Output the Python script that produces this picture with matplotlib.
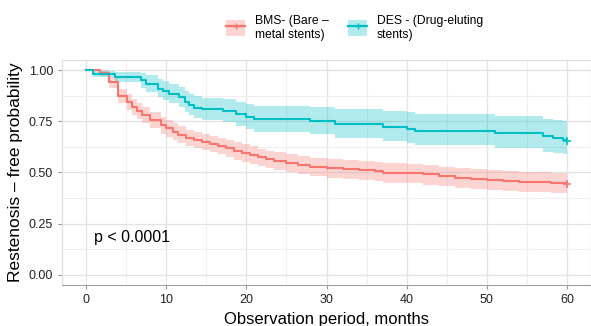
import numpy as np
import matplotlib
matplotlib.use('Agg')  # noqa
import matplotlib.pyplot as plt
from matplotlib.patches import Patch
from matplotlib.lines import Line2D

plt.rcParams['font.family'] = ['Liberation Sans', 'DejaVu Sans']

# Kaplan-Meier estimates (months, survival, CI)
bms_time = [0, 1.7, 2.8, 4.0, 5.1, 5.7, 6.3, 7.0, 8.0, 9.3, 10.0, 10.8, 11.5,
            12.5, 13.5, 14.5, 15.5, 16.5, 17.5, 18.5, 19.5, 20.5, 21.5, 22.5,
            23.5, 25.0, 26.5, 28.0, 30.0, 32.0, 34.0, 36.0, 37.0, 40.0, 42.0,
            44.0, 46.0, 48.0, 50.0, 52.0, 54.0, 56.0, 58.0, 60.0]
bms_surv = [1.0, 0.985, 0.94, 0.875, 0.845, 0.82, 0.80, 0.78, 0.755, 0.73,
            0.715, 0.70, 0.685, 0.67, 0.66, 0.65, 0.64, 0.63, 0.62, 0.605,
            0.595, 0.585, 0.575, 0.565, 0.555, 0.545, 0.535, 0.528, 0.52,
            0.515, 0.51, 0.505, 0.498, 0.495, 0.49, 0.482, 0.475, 0.47, 0.464,
            0.46, 0.455, 0.452, 0.448, 0.445]
bms_low = [1.0, 0.97, 0.915, 0.84, 0.805, 0.78, 0.76, 0.74, 0.715, 0.69,
           0.675, 0.66, 0.645, 0.63, 0.62, 0.61, 0.60, 0.59, 0.578, 0.563,
           0.553, 0.543, 0.532, 0.522, 0.512, 0.502, 0.492, 0.482, 0.472,
           0.467, 0.462, 0.456, 0.449, 0.446, 0.44, 0.432, 0.425, 0.42,
           0.414, 0.41, 0.405, 0.402, 0.398, 0.394]
bms_up = [1.0, 1.0, 0.965, 0.91, 0.885, 0.86, 0.84, 0.82, 0.795, 0.77,
          0.755, 0.74, 0.725, 0.71, 0.70, 0.69, 0.68, 0.67, 0.66, 0.647,
          0.637, 0.627, 0.617, 0.607, 0.598, 0.59, 0.58, 0.573, 0.565, 0.56,
          0.555, 0.55, 0.544, 0.541, 0.536, 0.529, 0.522, 0.517, 0.512,
          0.508, 0.504, 0.501, 0.497, 0.494]

des_time = [0, 0.9, 3.6, 6.9, 7.5, 9.0, 9.6, 10.4, 11.6, 12.3, 12.9, 13.5,
            14.5, 17.1, 18.7, 20.0, 21.0, 28.0, 31.0, 37.0, 40.0, 41.0, 51.0,
            57.0, 58.3, 59.5, 60.0]
des_surv = [1.0, 0.98, 0.965, 0.95, 0.935, 0.91, 0.90, 0.886, 0.87, 0.845,
            0.83, 0.817, 0.81, 0.80, 0.785, 0.77, 0.76, 0.752, 0.735, 0.722,
            0.714, 0.704, 0.693, 0.676, 0.668, 0.66, 0.655]
des_low = [1.0, 0.965, 0.94, 0.915, 0.895, 0.87, 0.855, 0.84, 0.82, 0.795,
           0.78, 0.765, 0.755, 0.745, 0.728, 0.712, 0.70, 0.688, 0.668,
           0.655, 0.645, 0.632, 0.62, 0.60, 0.595, 0.59, 0.588]
des_up = [1.0, 0.995, 0.99, 0.985, 0.975, 0.955, 0.945, 0.935, 0.92, 0.90,
          0.885, 0.875, 0.865, 0.858, 0.845, 0.833, 0.825, 0.82, 0.81, 0.80,
          0.795, 0.785, 0.775, 0.76, 0.755, 0.75, 0.747]

groups = ['BMS- (Bare –\nmetal stents)', 'DES - (Drug-eluting\nstents)']
colors = ['#F8766D', '#00BFC4']

fig = plt.figure(figsize=(5.91, 3.26), dpi=100)
ax = fig.add_axes([0.105, 0.126, 0.895, 0.69])

for t, s, lo, hi, c in [(bms_time, bms_surv, bms_low, bms_up, colors[0]),
                        (des_time, des_surv, des_low, des_up, colors[1])]:
    ax.fill_between(t, lo, hi, step='post', color=c, alpha=0.3, lw=0)
    ax.step(t, s, where='post', color=c, lw=1.5)
    ax.plot([t[-1]], [s[-1]], marker='+', color=c, ms=6, mew=1.2)

ax.set_xlim(-3, 63)
ax.set_ylim(-0.05, 1.05)
ax.set_xticks(np.arange(0, 61, 10))
ax.set_xticks(np.arange(5, 61, 10), minor=True)
ax.set_yticks([0, 0.25, 0.5, 0.75, 1.0])
ax.set_yticklabels(['0.00', '0.25', '0.50', '0.75', '1.00'])
ax.set_yticks([0.125, 0.375, 0.625, 0.875], minor=True)
ax.grid(which='major', color='#E3E3E3', lw=0.9)
ax.grid(which='minor', color='#EFEFEF', lw=0.8)
ax.set_axisbelow(True)
ax.tick_params(which='major', labelsize=9, colors='#222222', length=3,
               color='#999999')
ax.tick_params(which='minor', length=0)
for side in ['left', 'top', 'right']:
    ax.spines[side].set_color('#DDDDDD')
ax.spines['bottom'].set_color('#A0A0A0')

ax.set_xlabel('Observation period, months', fontsize=12, labelpad=4)
ax.set_ylabel('Restenosis – free probability', fontsize=12.5, labelpad=4)
ax.text(1, 0.18, 'p < 0.0001', fontsize=11.5, va='center', ha='left')

handles = [(Patch(color=c, alpha=0.3, lw=0),
            Line2D([], [], color=c, lw=1.6, marker='+', ms=5))
           for c in colors]
fig.legend(handles, groups, loc='center', bbox_to_anchor=(0.6, 0.915),
           ncol=2, frameon=False, fontsize=8.7, handlelength=1.6,
           handleheight=1.6, columnspacing=1.6, handletextpad=0.8)

plt.savefig('out.png', dpi=100)
